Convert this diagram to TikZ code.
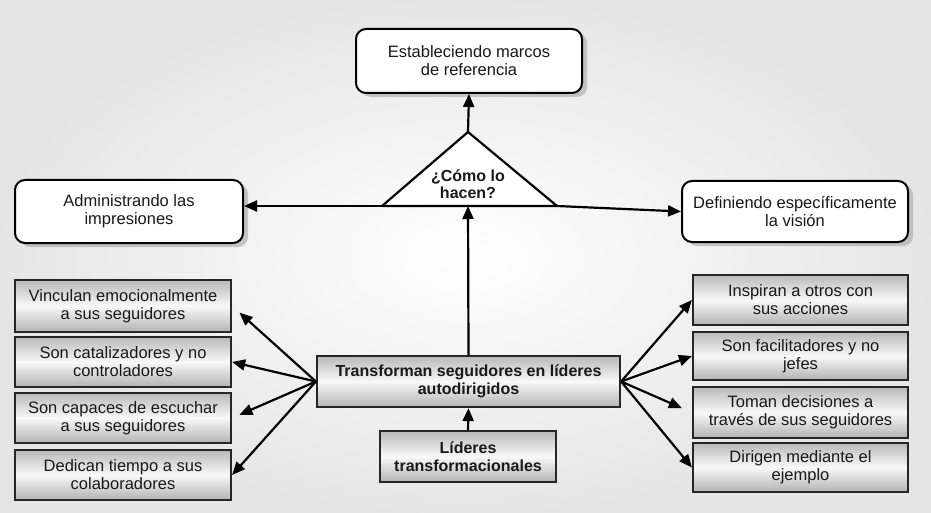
\documentclass[tikz,border=0pt]{standalone}
\usepackage{fontspec}
\setmainfont{Liberation Sans}
\usetikzlibrary{arrows.meta,shadows}
\begin{document}
\begin{tikzpicture}[x=1pt,y=-1pt,
  txt/.style={font=\fontsize{16.5}{18}\selectfont, text=black!90, align=center},
  boldtxt/.style={font=\bfseries\fontsize{16}{17.5}\selectfont},
  roundbox/.style={txt, draw=black, line width=2pt, rounded corners=10pt, fill=white,
    drop shadow={shadow xshift=5pt, shadow yshift=-4pt, fill=gray!70, opacity=0.6}, inner sep=0pt},
  rectbox/.style={txt, draw=black!85, line width=2.2pt, top color=gray!55, bottom color=gray!60,
    middle color=gray!5, inner sep=0pt},
  link/.style={line width=2.2pt, draw=black, -{Triangle[length=13pt,width=11pt]}},
]
\useasboundingbox (0,0) rectangle (931,513);
% page background
\shade[inner color=white, outer color=gray!20] (0,0) rectangle (931,513);

% rounded boxes around the question
\node[roundbox, minimum width=226pt, minimum height=64pt] (estab) at (469,61) {Estableciendo marcos\\de referencia};
\node[roundbox, minimum width=228pt, minimum height=63pt] (admin) at (129,211.5) {Administrando las\\impresiones};
\node[roundbox, minimum width=226pt, minimum height=61pt] (defin) at (795,211.5) {Definiendo específicamente\\la visión};

% central boxes
\node[rectbox, boldtxt, minimum width=303pt, minimum height=51pt] (trans) at (468.5,381.5) {Transforman seguidores en líderes\\autodirigidos};
\node[rectbox, boldtxt, minimum width=176pt, minimum height=51pt] (lider) at (468,456.5) {Líderes\\transformacionales};

% left column
\node[rectbox, minimum width=216pt, minimum height=52pt] (l1) at (123,306) {Vinculan emocionalmente\\a sus seguidores};
\node[rectbox, minimum width=216pt, minimum height=50pt] (l2) at (123,362) {Son catalizadores y no\\controladores};
\node[rectbox, minimum width=216pt, minimum height=50pt] (l3) at (123,418) {Son capaces de escuchar\\a sus seguidores};
\node[rectbox, minimum width=216pt, minimum height=50pt] (l4) at (123,475) {Dedican tiempo a sus\\colaboradores};

% right column
\node[rectbox, minimum width=215pt, minimum height=50pt] (r1) at (800.5,300) {Inspiran a otros con\\sus acciones};
\node[rectbox, minimum width=215pt, minimum height=48pt] (r2) at (800.5,356) {Son facilitadores y no\\jefes};
\node[rectbox, minimum width=215pt, minimum height=51pt] (r3) at (800.5,412.5) {Toman decisiones a\\través de sus seguidores};
\node[rectbox, minimum width=215pt, minimum height=49pt] (r4) at (800.5,467.5) {Dirigen mediante el\\ejemplo};

% question triangle
\coordinate (apex) at (468,132);
\coordinate (tl) at (382,206);
\coordinate (tr) at (557,206);
\coordinate (tb) at (468,206);
\draw[link] (tl) -- (tl -| admin.east);
\draw[link] (tr) -- (defin.west);
\draw[link] (apex) -- (estab.south);
\draw[line width=2.2pt, fill=white, line join=round] (apex) -- (tr) -- (tl) -- cycle;
\node[txt, font=\bfseries\fontsize{16}{17}\selectfont] (q) at (468,184) {¿Cómo lo\\hacen?};

% vertical links
\draw[link] (trans.north) -- (tb);
\draw[link] (lider.north) -- (trans.south);

% fan to the left
\draw[link, shorten >=10pt] (trans.west) -- (l1.east);
\draw[link] (trans.west) -- (l2.east);
\draw[link, shorten >=8pt] (trans.west) -- (l3.east);
\draw[link] (trans.west) -- (l4.east);

% fan to the right
\draw[link] (trans.east) -- (r1.west);
\draw[link] (trans.east) -- (r2.west);
\draw[link, shorten >=11pt] (trans.east) -- (r3.west);
\draw[link] (trans.east) -- (r4.west);
\end{tikzpicture}
\end{document}
